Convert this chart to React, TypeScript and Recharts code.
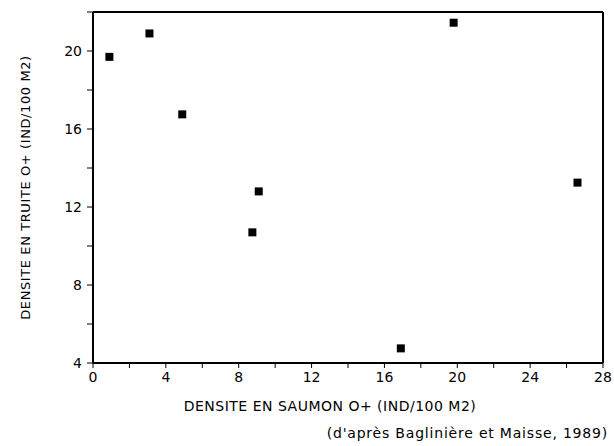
import { ScatterChart, Scatter, XAxis, YAxis, ZAxis, ReferenceLine, Label } from 'recharts';

// densité saumon 0+ (x) / truite 0+ (y), ind/100 m2
const saumon = [0.9, 3.1, 4.9, 8.75, 9.1, 16.9, 19.8, 26.6];
const truite = [19.7, 20.9, 16.75, 10.7, 12.8, 4.75, 21.45, 13.25];

const xTicks = [0, 2, 4, 6, 8, 10, 12, 14, 16, 18, 20, 22, 24, 26, 28];
const yTicks = [4, 6, 8, 10, 12, 14, 16, 18, 20, 22];

const points = saumon.map((x, i) => ({ x, y: truite[i] }));

const font = '"DejaVu Sans", Arial, sans-serif';

// seuls les multiples de 4 portent une étiquette
const every4 = (v: number) => (v % 4 === 0 && v !== 22 ? String(v) : '');

const App = () => {
  return (
    <div style={{ position: 'absolute', left: 0, top: 0, background: '#fff', fontFamily: font }}>
      <ScatterChart width={614} height={446} margin={{ top: 12, right: 11, bottom: 0, left: 0 }}>
        <XAxis
          type="number"
          dataKey="x"
          domain={[0, 28]}
          ticks={xTicks}
          interval={0}
          tickFormatter={every4}
          height={83}
          tickSize={5}
          tickMargin={4}
          axisLine={{ stroke: '#000', strokeWidth: 2 }}
          tickLine={{ stroke: '#000' }}
          tick={{ fill: '#000', fontSize: 14, fontFamily: font }}
        >
          <Label
            value="DENSITE EN SAUMON O+ (IND/100 M2)"
            position="insideBottom"
            offset={35}
            dx={-18}
            style={{ fill: '#000', fontSize: 14, fontFamily: font, letterSpacing: 0.5 }}
          />
          <Label
            value="(d'après Baglinière et Maisse, 1989)"
            position="insideBottomRight"
            offset={8}
            dx={13}
            style={{ fill: '#000', fontSize: 14, fontFamily: font, letterSpacing: 0.8 }}
          />
        </XAxis>
        <YAxis
          type="number"
          dataKey="y"
          domain={[4, 22]}
          ticks={yTicks}
          interval={0}
          tickFormatter={every4}
          width={93}
          tickSize={6}
          tickMargin={5}
          axisLine={{ stroke: '#000', strokeWidth: 2 }}
          tickLine={{ stroke: '#000' }}
          tick={{ fill: '#000', fontSize: 14, fontFamily: font }}
        >
          <Label
            value="DENSITE EN TRUITE O+ (IND/100 M2)"
            angle={-90}
            position="insideLeft"
            offset={25}
            style={{ fill: '#000', fontSize: 13, fontFamily: font, textAnchor: 'middle', letterSpacing: 0.6 }}
          />
        </YAxis>
        <ZAxis range={[46, 46]} />
        <ReferenceLine y={22} stroke="#000" strokeWidth={2} />
        <ReferenceLine x={28} stroke="#000" strokeWidth={2} />
        <Scatter data={points} shape="square" fill="#000" isAnimationActive={false} />
      </ScatterChart>
    </div>
  );
};

export default App;
